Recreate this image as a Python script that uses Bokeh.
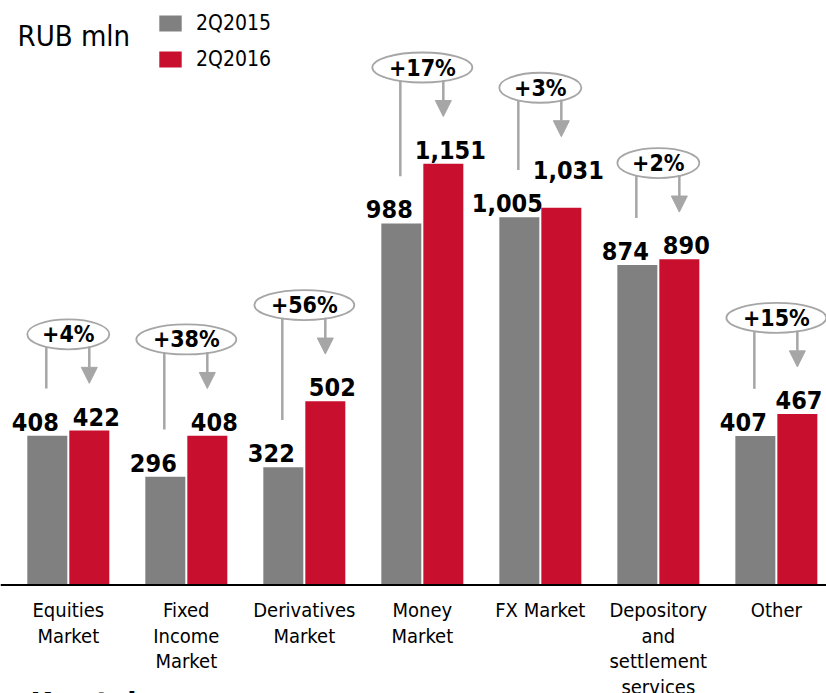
import math
from bokeh.plotting import figure
from bokeh.models import (Range1d, Span, Label, Legend, LegendItem,
                          ColumnDataSource, Arrow, NormalHead)
from bokeh.core.properties import value
from bokeh.transform import dodge
from bokeh.embed import file_html
from bokeh.resources import INLINE

# ---------------- data ----------------
categories = ["Equities\nMarket", "Fixed\nIncome\nMarket", "Derivatives\nMarket",
              "Money\nMarket", "FX Market", "Depository\nand\nsettlement\nservices", "Other"]
q2_2015 = [408, 296, 322, 988, 1005, 874, 407]
q2_2016 = [422, 408, 502, 1151, 1031, 890, 467]
growth = ["+4%", "+38%", "+56%", "+17%", "+3%", "+2%", "+15%"]
series_names = ["2Q2015", "2Q2016"]
unit_label = "RUB mln"
footer_text = "Key takeaways"

# ---------------- style ----------------
GRAY = "#808080"
RED = "#C8102E"
LINE_GRAY = "#A6A6A6"
FONT = "DejaVu Sans Condensed, DejaVu Sans"

W, H = 826, 693
Y0, Y1 = -296.4, 1597.0
X0, X1 = -0.5746, 6.425
ppu = H / (Y1 - Y0)          # pixels per value unit
ppx = W / (X1 - X0)          # pixels per category unit

off = 21 / ppx
bw = 40 / ppx

VAL_FS = 25
cap = 0.729 * VAL_FS
gap = 14


def text_w(s):
    return sum(8.6 if c == "," else 15.65 for c in s)


n = len(categories)
xs = list(range(n))
g_txt = [f"{v:,}" for v in q2_2015]
r_txt = [f"{v:,}" for v in q2_2016]

g_base, r_base, g_xo, r_xo = [], [], [], []
for i in range(n):
    gb = q2_2015[i] * ppu + gap
    rb = q2_2016[i] * ppu + gap
    gx = -off * ppx - 12
    rx = off * ppx + 7
    g_right = gx + text_w(g_txt[i]) / 2
    r_left = rx - text_w(r_txt[i]) / 2
    g_top = gb + cap
    if r_left < g_right + 4 and rb < g_top + 4:
        rb = g_top + 15
    g_base.append(gb)
    r_base.append(rb)
    # keep labels inside the canvas
    r_abs_right = (i + off - X0) * ppx + 7 + text_w(r_txt[i]) / 2
    r_xo.append(7 - max(0.0, r_abs_right - (W - 4)))
    g_xo.append(-12)

g_yoff = [-(g_base[i] - q2_2015[i] * ppu) for i in range(n)]
r_yoff = [-(r_base[i] - q2_2016[i] * ppu) for i in range(n)]

ell_w = [18 * len(s) + 28 for s in growth]
ell_h = 30
ell_y, line_y0, line_y1, arr_y0, arr_y1 = [], [], [], [], []
for i in range(n):
    top = max(g_base[i], r_base[i]) + cap
    cy = top + 49 + ell_h / 2
    ell_y.append(cy / ppu)
    a = ell_w[i] / 2
    dy = (ell_h / 2) * math.sqrt(max(0.0, 1 - (21 / a) ** 2)) - 1
    line_y0.append((cy - dy) / ppu)
    line_y1.append((g_base[i] + cap + 15) / ppu)
    arr_y0.append((cy - dy) / ppu)
    arr_y1.append((r_base[i] + cap + 15) / ppu)

src = ColumnDataSource(dict(
    x=xs, cat=categories, g=q2_2015, r=q2_2016, gt=g_txt, rt=r_txt,
    gyo=g_yoff, ryo=r_yoff, gxo=g_xo, rxo=r_xo, pct=growth, ew=ell_w, ey=ell_y,
    lx=[i - off - 1 / ppx for i in xs], ly0=line_y0, ly1=line_y1,
    ax=[i + off for i in xs], ay0=arr_y0, ay1=arr_y1,
    zero=[0] * n,
))

p = figure(width=W, height=H, output_backend="svg", toolbar_location=None,
           x_range=Range1d(X0, X1), y_range=Range1d(Y0, Y1),
           x_axis_location=None, y_axis_location=None,
           min_border=0, min_border_left=0, min_border_right=0,
           min_border_top=0, min_border_bottom=0)
p.outline_line_color = None
p.xgrid.visible = False
p.ygrid.visible = False
p.background_fill_color = "white"

rg = p.vbar(x=dodge("x", -off), top="g", width=bw, bottom=0, source=src,
            fill_color=GRAY, line_color=None)
rr = p.vbar(x=dodge("x", off), top="r", width=bw, bottom=0, source=src,
            fill_color=RED, line_color=None)

p.add_layout(Span(location=0, dimension="width", line_color="black", line_width=2))

# connector lines & arrows
p.segment(x0="lx", y0="ly0", x1="lx", y1="ly1", source=src,
          line_color=LINE_GRAY, line_width=2.5)
p.add_layout(Arrow(end=NormalHead(size=16, fill_color=LINE_GRAY, line_color=LINE_GRAY),
                   x_start="ax", y_start="ay0", x_end="ax", y_end="ay1",
                   source=src, line_color=LINE_GRAY, line_width=2.5))

p.ellipse(x="x", y="ey", width="ew", height=ell_h, width_units="screen",
          height_units="screen", source=src, fill_color="white",
          line_color=LINE_GRAY, line_width=1.8)
p.text(x="x", y="ey", text="pct", source=src, text_align="center",
       text_baseline="middle", text_font=value(FONT), text_font_style="bold",
       text_font_size="23px", text_color="black")

# value labels
p.text(x=dodge("x", -off), y="g", text="gt", source=src, x_offset="gxo", y_offset="gyo",
       text_align="center", text_baseline="alphabetic", text_font=value(FONT),
       text_font_style="bold", text_font_size=f"{VAL_FS}px", text_color="black")
p.text(x=dodge("x", off), y="r", text="rt", source=src, x_offset="rxo", y_offset="ryo",
       text_align="center", text_baseline="alphabetic", text_font=value(FONT),
       text_font_style="bold", text_font_size=f"{VAL_FS}px", text_color="black")

# category labels
p.text(x="x", y="zero", text="cat", source=src, y_offset=13, text_align="center",
       text_baseline="top", text_font=value(FONT), text_font_size="20px",
       text_line_height=1.07, text_color="black")

# legend
legend = Legend(items=[LegendItem(label=series_names[0], renderers=[rg]),
                       LegendItem(label=series_names[1], renderers=[rr])],
                location=(156, 622), orientation="vertical",
                glyph_width=28, glyph_height=20, label_standoff=12, spacing=12,
                padding=0, margin=0, border_line_color=None,
                background_fill_alpha=0,
                label_text_font=FONT, label_text_font_size="21px",
                label_text_color="black")
p.add_layout(legend)

p.add_layout(Label(x=17, y=H - 35, x_units="screen", y_units="screen", text=unit_label,
                   text_font=FONT, text_font_size="29px", text_baseline="alphabetic",
                   text_color="black"))
p.add_layout(Label(x=30, y=-10, x_units="screen", y_units="screen", text=footer_text,
                   text_font=FONT, text_font_size="30px", text_font_style="bold",
                   text_baseline="alphabetic", text_color="black"))

open("out.html", "w").write(file_html(p, INLINE))
